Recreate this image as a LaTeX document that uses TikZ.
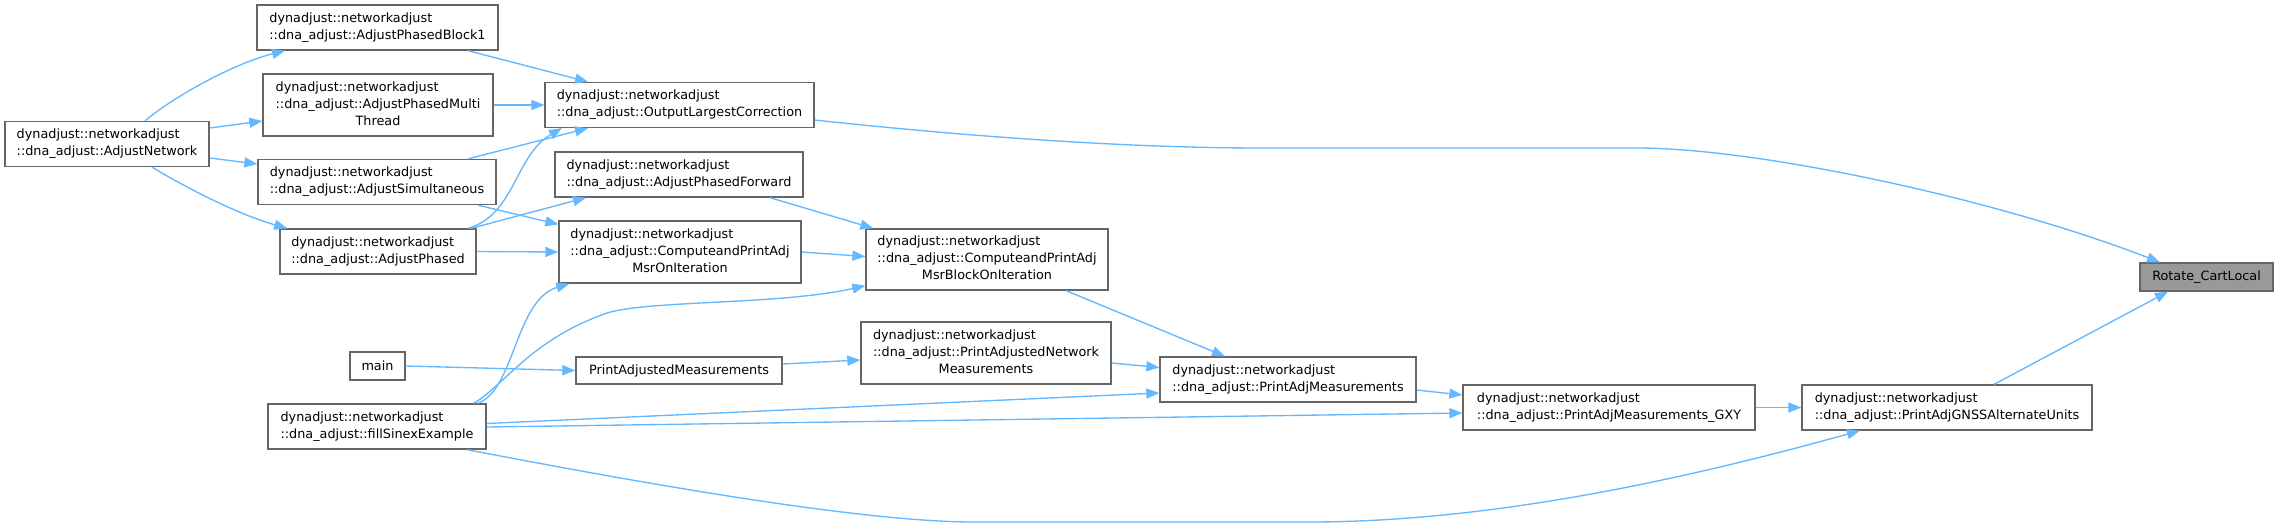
\documentclass[tikz,border=0pt]{standalone}
\usepackage{fontspec}
\setmainfont{DejaVu Sans}
\usepackage{tikz}
\usetikzlibrary{arrows.meta,calc}
\definecolor{edgeblue}{HTML}{63B8FF}
\definecolor{boxgray}{HTML}{666666}
\definecolor{hlgray}{HTML}{999999}

\begin{document}
\begin{tikzpicture}[
    x=1pt, y=-1pt,
    box/.style={rectangle, draw=boxgray, line width=1.3pt, fill=white, align=left, inner xsep=3pt, inner ysep=0pt, minimum height=45pt, font=\fontsize{12.8}{17}\selectfont},
    hilite/.style={box, fill=hlgray, minimum height=28pt},
    arrow/.style={-{Triangle[length=13pt, width=10pt]}, line width=1.35pt, draw=edgeblue}
]
    \path[use as bounding box, fill=white] (0,0) rectangle (2278,528);

    % callers, left to right
    \node[box, minimum width=204pt] (net) at (107,144) {dynadjust::networkadjust\\::dna\_adjust::AdjustNetwork};
    \node[box, minimum width=241pt] (blk1) at (377.5,27.5) {dynadjust::networkadjust\\::dna\_adjust::AdjustPhasedBlock1};
    \node[box, minimum width=230pt, minimum height=62pt] (multi) at (378,105) {\begin{tabular}{@{}l@{}}dynadjust::networkadjust\\::dna\_adjust::AdjustPhasedMulti\\\multicolumn{1}{@{}c@{}}{Thread}\end{tabular}};
    \node[box, minimum width=238pt] (simul) at (377,182) {dynadjust::networkadjust\\::dna\_adjust::AdjustSimultaneous};
    \node[box, minimum width=196pt] (phased) at (378,251.5) {dynadjust::networkadjust\\::dna\_adjust::AdjustPhased};
    \node[box, minimum width=55pt, minimum height=28pt] (main) at (377.5,366) {main};
    \node[box, minimum width=218pt] (sinex) at (377,426.5) {dynadjust::networkadjust\\::dna\_adjust::fillSinexExample};

    \node[box, minimum width=269pt] (outlc) at (679.5,105) {dynadjust::networkadjust\\::dna\_adjust::OutputLargestCorrection};
    \node[box, minimum width=248pt] (fwd) at (679,174.5) {dynadjust::networkadjust\\::dna\_adjust::AdjustPhasedForward};
    \node[box, minimum width=242pt, minimum height=62pt] (msriter) at (680,252) {\begin{tabular}{@{}l@{}}dynadjust::networkadjust\\::dna\_adjust::ComputeandPrintAdj\\\multicolumn{1}{@{}c@{}}{MsrOnIteration}\end{tabular}};
    \node[box, minimum width=206pt, minimum height=27pt] (padjm) at (679,370.5) {PrintAdjustedMeasurements};

    \node[box, minimum width=242pt, minimum height=61pt] (blkiter) at (987,259.5) {\begin{tabular}{@{}l@{}}dynadjust::networkadjust\\::dna\_adjust::ComputeandPrintAdj\\\multicolumn{1}{@{}c@{}}{MsrBlockOnIteration}\end{tabular}};
    \node[box, minimum width=250pt, minimum height=62pt] (pnetm) at (986,353) {\begin{tabular}{@{}l@{}}dynadjust::networkadjust\\::dna\_adjust::PrintAdjustedNetwork\\\multicolumn{1}{@{}c@{}}{Measurements}\end{tabular}};

    \node[box, minimum width=256pt] (padj) at (1288,379.5) {dynadjust::networkadjust\\::dna\_adjust::PrintAdjMeasurements};
    \node[box, minimum width=292pt] (gxy) at (1609,407.5) {dynadjust::networkadjust\\::dna\_adjust::PrintAdjMeasurements\_GXY};
    \node[box, minimum width=290pt] (gnss) at (1947,407.5) {dynadjust::networkadjust\\::dna\_adjust::PrintAdjGNSSAlternateUnits};
    \node[hilite, minimum width=133pt] (rot) at (2206.5,277) {Rotate\_CartLocal};

    % call edges
    \draw[arrow] ($(net.north)+(38,0)$) .. controls (172,98) and (232,64) .. ($(blk1.south)+(-92.5,0)$);
    \draw[arrow] ($(net.east)+(0,-16)$) -- ($(multi.west)+(0,16)$);
    \draw[arrow] ($(net.east)+(0,14)$) -- ($(simul.west)+(0,-18)$);
    \draw[arrow] ($(net.south)+(45,0)$) .. controls (190,190) and (240,215) .. ($(phased.north west)+(8,0)$);
    \draw[arrow] ($(blk1.south)+(90.5,0)$) -- ($(outlc.north)+(-91.5,0)$);
    \draw[arrow] (multi.east) -- (outlc.west);
    \draw[arrow] ($(simul.north)+(91,0)$) -- ($(outlc.south)+(-91.5,0)$);
    \draw[arrow] ($(phased.north)+(90,0)$) .. controls (515,215) and (515,155) .. ($(outlc.south)+(-117.5,0)$);
    \draw[arrow] ($(phased.north)+(93,0)$) -- ($(fwd.south)+(-93,0)$);
    \draw[arrow] (phased.east) -- (msriter.west);
    \draw[arrow] ($(simul.south)+(101,0)$) -- ($(msriter.north west)+(0,4)$);
    \draw[arrow] ($(fwd.south)+(91,0)$) -- ($(blkiter.north west)+(8,0)$);
    \draw[arrow] (msriter.east) -- ($(blkiter.west)+(0,-3)$);
    \draw[arrow] ($(sinex.north east)+(-9,0)$) .. controls (515,390) and (515,300) .. ($(msriter.south west)+(11,0)$);
    \draw[arrow] ($(sinex.north east)+(-13,0)$) .. controls (505,385) and (530,340) .. (607,313) .. controls (650,300) and (780,305) .. ($(blkiter.south west)+(0,-5)$);
    \draw[arrow] (main.east) -- (padjm.west);
    \draw[arrow] ($(padjm.east)+(0,-6.5)$) -- ($(pnetm.west)+(0,7)$);
    \draw[arrow] ($(blkiter.south)+(79,0)$) -- ($(padj.north)+(-63,0)$);
    \draw[arrow] ($(pnetm.east)+(0,10)$) -- ($(padj.west)+(0,-12)$);
    \draw[arrow] ($(sinex.east)+(0,-3)$) -- ($(padj.west)+(0,13.5)$);
    \draw[arrow] ($(sinex.east)+(0,0.5)$) -- ($(gxy.west)+(0,5.5)$);
    \draw[arrow] ($(padj.east)+(0,10.5)$) -- ($(gxy.west)+(0,-12.5)$);
    \draw[arrow] (gxy.east) -- (gnss.west);
    \draw[arrow] ($(gnss.north)+(47,0)$) -- ($(rot.south)+(-38.5,0)$);
    \draw[arrow] ($(outlc.east)+(0,15)$) .. controls (1000,140) and (1150,148) .. (1262,148) -- (1637,148) .. controls (1760,148) and (2000,200) .. ($(rot.north)+(-46.5,0)$);
    \draw[arrow] ($(sinex.south)+(90,0)$) .. controls (600,475) and (850,522) .. (974,522) -- (1309,522) .. controls (1500,522) and (1700,475) .. ($(gnss.south)+(-87,0)$);
\end{tikzpicture}
\end{document}
